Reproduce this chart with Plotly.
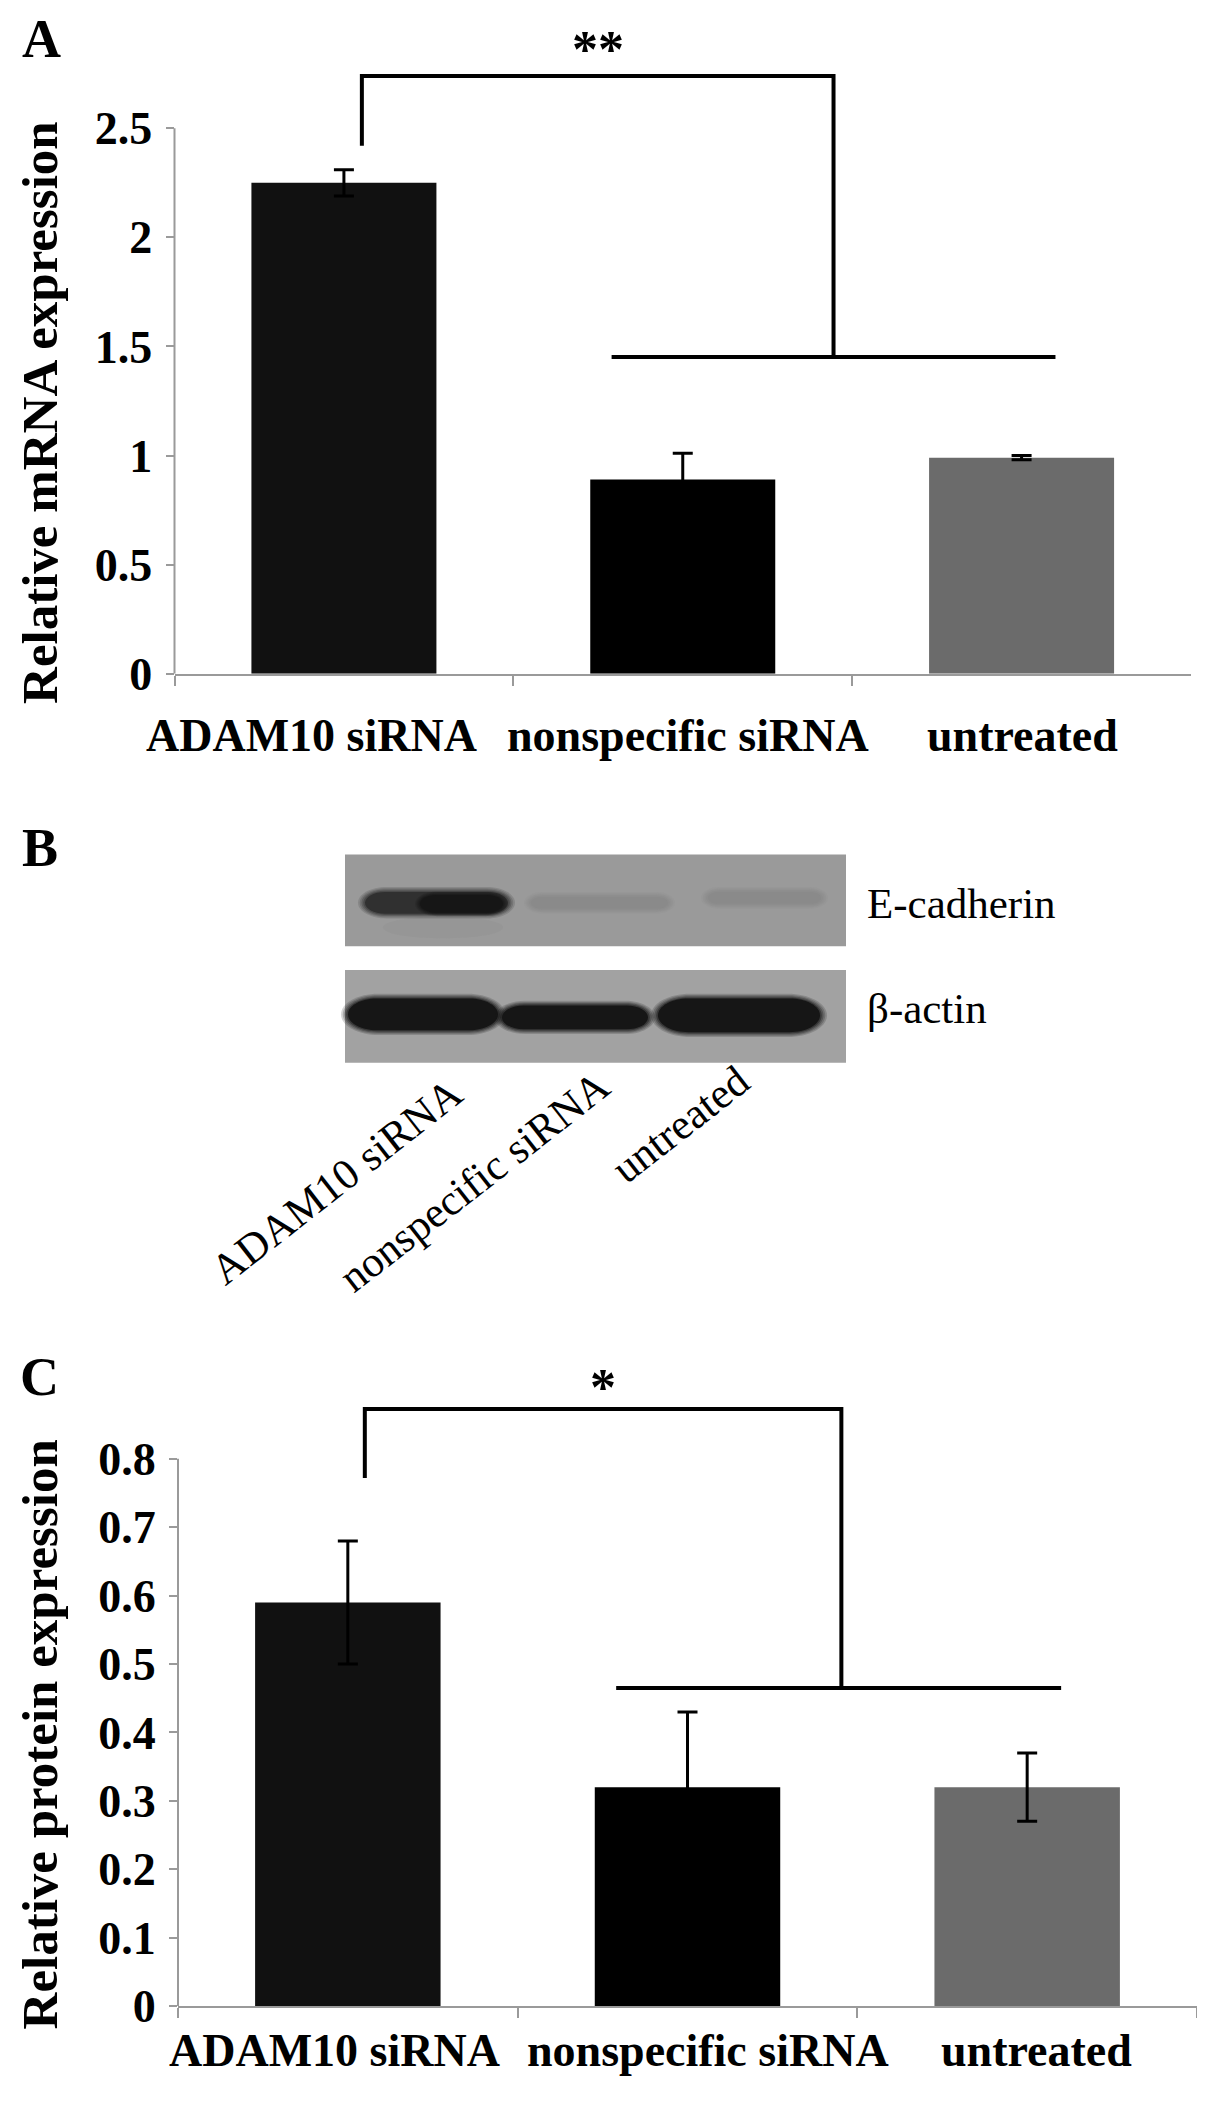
import plotly.graph_objects as go

W, H = 1205, 2106
SERIF = "Liberation Serif, Times New Roman, serif"
AX = "#9a9a9a"

# ---- data ----
categories = ["ADAM10 siRNA", "nonspecific siRNA", "untreated"]
bar_colors = ["#111111", "#000000", "#6b6b6b"]

mrna_mean = [2.25, 0.89, 0.99]
mrna_sd = [0.06, 0.12, 0.01]
mrna_ticks = [0, 0.5, 1, 1.5, 2, 2.5]
mrna_ticktext = ["0", "0.5", "1", "1.5", "2", "2.5"]

protein_mean = [0.59, 0.32, 0.32]
protein_sd = [0.09, 0.11, 0.05]
protein_ticks = [0, 0.1, 0.2, 0.3, 0.4, 0.5, 0.6, 0.7, 0.8]
protein_ticktext = ["0", "0.1", "0.2", "0.3", "0.4", "0.5", "0.6", "0.7", "0.8"]

# significance brackets: (left leg bottom, bar top, right leg bottom / group line)
mrna_bracket = [2.42, 2.74, 1.451]
protein_bracket = [0.772, 0.873, 0.465]

blot_rows = ["E-cadherin", "β-actin"]
ecad_density = [0.8, 0.12, 0.12]
actin_density = [1.0, 1.0, 1.0]


def px_x(x):
    return x / W


def px_y(y):
    return 1 - y / H


def ydom(zero_px, unit_px, top):
    return [px_y(zero_px), px_y(zero_px - unit_px * top)]


def mix(c1, c2, t):
    a = [int(c1[i:i + 2], 16) for i in (1, 3, 5)]
    b = [int(c2[i:i + 2], 16) for i in (1, 3, 5)]
    return "#" + "".join("%02x" % round(a[k] + (b[k] - a[k]) * t) for k in range(3))


fig = go.Figure()

fig.add_trace(go.Bar(
    x=categories, y=mrna_mean, width=0.546,
    marker=dict(color=bar_colors, line=dict(width=0)),
    error_y=dict(type="data", array=mrna_sd, color="black", thickness=3, width=10),
    xaxis="x", yaxis="y", showlegend=False, hoverinfo="skip"))

fig.add_trace(go.Bar(
    x=categories, y=protein_mean, width=0.546,
    marker=dict(color=bar_colors, line=dict(width=0)),
    error_y=dict(type="data", array=protein_sd, color="black", thickness=3, width=10),
    xaxis="x2", yaxis="y2", showlegend=False, hoverinfo="skip"))

tickfont = dict(family=SERIF, size=46, color="black", weight="bold")
xcommon = dict(type="category", range=[-0.5, 2.5], showline=True, linecolor=AX, linewidth=2,
               ticks="outside", tickson="boundaries", ticklen=10, tickcolor=AX, tickwidth=2,
               showticklabels=False, showgrid=False, zeroline=False)
ycommon = dict(showline=False, ticks="outside", ticklen=8, tickcolor=AX, tickwidth=2,
               tickfont=tickfont, showgrid=False, zeroline=False, ticklabelstandoff=4)

# panel geometry (pixels): A axis 166.5..1183, zero at 674, 220.9 px/unit
#                          C axis 170..1189, zero at 2023, 692.5 px/unit
fig.update_layout(
    width=W, height=H, margin=dict(l=0, r=0, t=0, b=0),
    paper_bgcolor="white", plot_bgcolor="white", showlegend=False,
    xaxis=dict(domain=[px_x(166.5), px_x(1183)], anchor="y", **xcommon),
    yaxis=dict(domain=ydom(674, 220.9, 2.9), range=[0, 2.9], anchor="x",
               tickvals=mrna_ticks, ticktext=mrna_ticktext, **ycommon),
    xaxis2=dict(domain=[px_x(170), px_x(1189)], anchor="y2", **xcommon),
    yaxis2=dict(domain=ydom(2023, 692.5, 0.95), range=[0, 0.95], anchor="x2",
                tickvals=protein_ticks, ticktext=protein_ticktext, **ycommon),
)

shapes = []
annotations = []

# y axis lines that stop at the top tick
shapes.append(dict(type="line", xref="paper", yref="y", x0=px_x(166.5), x1=px_x(166.5),
                   y0=0, y1=mrna_ticks[-1], line=dict(color=AX, width=2)))
shapes.append(dict(type="line", xref="paper", yref="y2", x0=px_x(170), x1=px_x(170),
                   y0=0, y1=protein_ticks[-1], line=dict(color=AX, width=2)))


def bracket(xr, yr, levels, xl, xr_, g0, g1):
    low_left, top, group = levels
    shapes.append(dict(type="path", xref=xr, yref=yr,
                       path="M %f,%f L %f,%f L %f,%f L %f,%f" % (xl, low_left, xl, top, xr_, top, xr_, group),
                       line=dict(color="black", width=4)))
    shapes.append(dict(type="line", xref=xr, yref=yr, x0=g0, x1=g1, y0=group, y1=group,
                       line=dict(color="black", width=4)))


bracket("x", "y", mrna_bracket, 0.053, 1.445, 0.79, 2.10)
bracket("x2", "y2", protein_bracket, 0.05, 1.453, 0.79, 2.10)

star_font = dict(family=SERIF, size=52, color="black", weight="bold")
annotations.append(dict(xref="x", yref="y", x=0.749, y=2.862, text="**", showarrow=False,
                        font=star_font, xanchor="center", yanchor="middle"))
annotations.append(dict(xref="x2", yref="y2", x=0.75, y=0.905, text="*", showarrow=False,
                        font=star_font, xanchor="center", yanchor="middle"))

# category labels under the bar charts
label_font = dict(family=SERIF, size=46, color="black", weight="bold")
for i, cat in enumerate(categories):
    annotations.append(dict(xref="x", yref="paper", x=i, y=px_y(737), text=cat, showarrow=False,
                            xshift=[-32, 5, 1][i], font=label_font, xanchor="center", yanchor="middle"))
    annotations.append(dict(xref="x2", yref="paper", x=i, y=px_y(2068), text=cat, showarrow=False,
                            xshift=[-13, 20, 9][i], font=label_font, xanchor="center", yanchor="middle"))

title_font = dict(family=SERIF, size=51, color="black", weight="bold")
annotations.append(dict(xref="paper", yref="paper", x=px_x(32), y=px_y(410), text="Relative mRNA expression",
                        textangle=-90, showarrow=False, font=title_font, xanchor="center", yanchor="middle"))
annotations.append(dict(xref="paper", yref="paper", x=px_x(32), y=px_y(1748), text="Relative protein expression",
                        textangle=-90, showarrow=False, font=title_font, xanchor="center", yanchor="middle"))

letter_font = dict(family=SERIF, size=54, color="black", weight="bold")
for txt, (lx, ly) in zip(["A", "B", "C"], [(33, 31), (32, 850), (31, 1386)]):
    annotations.append(dict(xref="paper", yref="paper", x=px_x(lx), y=px_y(ly), text=txt, showarrow=False,
                            font=letter_font, xanchor="center", yanchor="middle"))

# ---- panel B: western blot ----
blot_bg = ["#9a9a9a", "#a2a2a2"]
blot_y = [(857, 950), (974, 1068)]
for (y0, y1), bg in zip(blot_y, blot_bg):
    shapes.append(dict(type="rect", xref="paper", yref="paper", x0=px_x(337), x1=px_x(838),
                       y0=px_y(y0), y1=px_y(y1), fillcolor=bg, line=dict(width=0)))


def stadium(x0, x1, yc, hh, color, opacity):
    r = min(hh * 1.8, (x1 - x0) / 2)
    k = 0.5523
    pts = [
        ("M", [(x0 + r, yc - hh)]),
        ("L", [(x1 - r, yc - hh)]),
        ("C", [(x1 - r + k * r, yc - hh), (x1, yc - k * hh), (x1, yc)]),
        ("C", [(x1, yc + k * hh), (x1 - r + k * r, yc + hh), (x1 - r, yc + hh)]),
        ("L", [(x0 + r, yc + hh)]),
        ("C", [(x0 + r - k * r, yc + hh), (x0, yc + k * hh), (x0, yc)]),
        ("C", [(x0, yc - k * hh), (x0 + r - k * r, yc - hh), (x0 + r, yc - hh)]),
    ]
    path = " ".join(cmd + " " + " ".join("%f,%f" % (px_x(a), px_y(b)) for a, b in p) for cmd, p in pts) + " Z"
    shapes.append(dict(type="path", xref="paper", yref="paper", path=path,
                       fillcolor=color, opacity=opacity, line=dict(width=0)))


def band(x0, x1, yc, hh, color, soft=8):
    # stacked translucent layers give the blurred film look
    steps = [(1.0, 0.18), (0.75, 0.22), (0.5, 0.3), (0.25, 0.45), (0.0, 1.0)]
    for f, op in steps:
        g = soft * f
        stadium(x0 - g, x1 + g, yc, hh + g * 0.7, color, op)


DARK = "#161616"
ecad_geom = [(357, 500, 906, 11), (523, 660, 906, 6), (700, 813, 901, 6)]
actin_geom = [(340, 490, 1019, 16), (494, 640, 1022, 12), (650, 812, 1020, 17)]
# very faint smear under the ADAM10 E-cadherin band
shapes.append(dict(type="circle", xref="paper", yref="paper", x0=px_x(375), x1=px_x(495),
                   y0=px_y(920), y1=px_y(942), fillcolor="#8f8f8f", opacity=0.35, line=dict(width=0)))
for (x0, x1, yc, hh), d in zip(ecad_geom, ecad_density):
    band(x0, x1, yc, hh, mix(blot_bg[0], DARK, d), soft=7)
# stronger right lobe of the ADAM10 E-cadherin band
band(412, 495, 907, 9, mix(blot_bg[0], DARK, 1.0), soft=5)
for (x0, x1, yc, hh), d in zip(actin_geom, actin_density):
    band(x0, x1, yc, hh, mix(blot_bg[1], DARK, d), soft=7)

row_font = dict(family=SERIF, size=43, color="black")
for txt, ly in zip(blot_rows, [907, 1013]):
    annotations.append(dict(xref="paper", yref="paper", x=px_x(857), y=px_y(ly), text=txt, showarrow=False,
                            font=row_font, xanchor="left", yanchor="middle"))

lane_label_pos = [(328, 1188), (466, 1188), (672, 1130)]
for cat, (lx, ly) in zip(categories, lane_label_pos):
    annotations.append(dict(xref="paper", yref="paper", x=px_x(lx), y=px_y(ly), text=cat, showarrow=False,
                            textangle=-38, font=row_font, xanchor="center", yanchor="middle"))

fig.update_layout(shapes=shapes, annotations=annotations)
fig.write_html("out.html")
